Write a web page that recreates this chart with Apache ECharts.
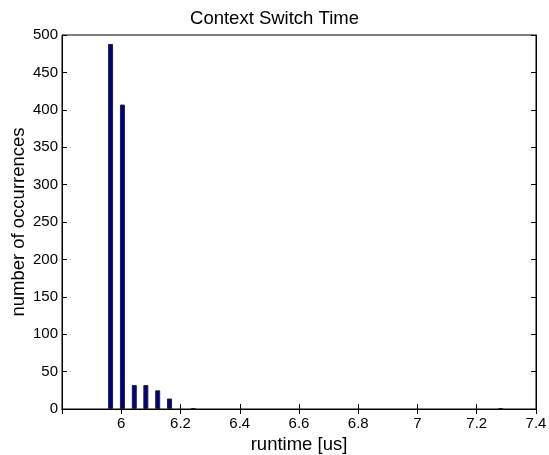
<!DOCTYPE html>
<html><head><meta charset="utf-8">
<script src="https://cdn.jsdelivr.net/npm/echarts@6/dist/echarts.min.js"></script>
<style>html,body{margin:0;padding:0;background:#fff}#c{width:549px;height:455px}</style>
</head><body><div id="c"></div>
<script>
const binCenters = [5.964, 6.004, 6.044, 6.083, 6.123, 6.163, 6.243, 7.281];
const counts = [488, 407, 32, 32, 25, 14, 1, 1];
const yTicks = [0, 50, 100, 150, 200, 250, 300, 350, 400, 450, 500];
const titleText = 'Context Switch Time';
const xName = 'runtime [us]';
const yName = 'number of occurrences';

const font = 'Liberation Sans, Arial, Helvetica, sans-serif';
const chart = echarts.init(document.getElementById('c'));
const tickStyle = {show: true, inside: true, length: 5, lineStyle: {color: '#000', width: 1}};
chart.setOption({
  animation: false,
  title: {text: titleText, left: 'center', top: 4, textStyle: {fontFamily: font, fontSize: 18.5, fontWeight: 'normal', color: '#000'}},
  grid: {left: 62, right: 13, top: 35, bottom: 46, show: true, borderColor: '#000', borderWidth: 1,
    containLabel: false, outerBoundsMode: 'none'},
  xAxis: [{
    type: 'value', min: 5.8, max: 7.4, interval: 0.2,
    name: xName, nameLocation: 'middle', nameGap: 18,
    nameTextStyle: {fontFamily: font, fontSize: 18.5, color: '#000'},
    axisLine: {show: true, lineStyle: {color: '#000'}},
    axisTick: tickStyle,
    splitLine: {show: false},
    axisLabel: {fontFamily: font, fontSize: 15, color: '#000', margin: 7, showMinLabel: false,
      formatter: v => { const r = Math.round(v * 10) / 10; return Math.abs(r - 5.8) < 1e-9 ? '' : String(r); }}
  }, {
    type: 'value', min: 5.8, max: 7.4, interval: 0.2, position: 'top',
    axisLine: {show: true, lineStyle: {color: '#000'}}, axisTick: tickStyle,
    axisLabel: {show: false}, splitLine: {show: false}
  }],
  yAxis: [{
    type: 'value', min: yTicks[0], max: yTicks[yTicks.length - 1], interval: 50,
    name: yName, nameLocation: 'middle', nameGap: 34, nameRotate: 90, nameMoveOverlap: false,
    nameTextStyle: {fontFamily: font, fontSize: 18.5, color: '#000'},
    axisLine: {show: true, lineStyle: {color: '#000'}},
    axisTick: tickStyle, splitLine: {show: false},
    axisLabel: {fontFamily: font, fontSize: 15, color: '#000', margin: 4}
  }, {
    type: 'value', min: yTicks[0], max: yTicks[yTicks.length - 1], interval: 50, position: 'right',
    axisLine: {show: true, lineStyle: {color: '#000'}}, axisTick: tickStyle,
    axisLabel: {show: false}, splitLine: {show: false}
  }],
  series: [{
    type: 'bar', xAxisIndex: 0, yAxisIndex: 0,
    data: binCenters.map((x, i) => [x, counts[i]]),
    barWidth: 5,
    itemStyle: {color: '#00008f', borderColor: '#222', borderWidth: 1}
  }]
});
</script></body></html>
